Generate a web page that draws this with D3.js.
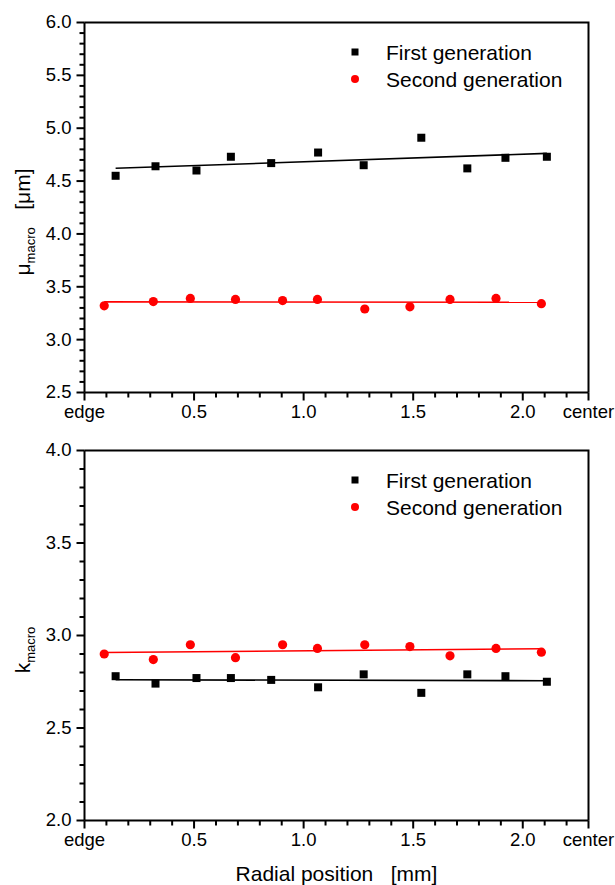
<!DOCTYPE html>
<html>
<head>
<meta charset="utf-8">
<script src="https://cdn.jsdelivr.net/npm/d3@7"></script>
<style>
  html, body { margin: 0; padding: 0; background: #fff; }
  svg { display: block; }
  text { font-family: "Liberation Sans", Arial, sans-serif; fill: #000; white-space: pre; }
</style>
</head>
<body>
<svg id="chart" width="615" height="885"></svg>
<script>
// ---- Data ----
const seriesNames = ["First generation", "Second generation"];
const firstGenX  = [0.142, 0.324, 0.511, 0.668, 0.852, 1.066, 1.274, 1.537, 1.747, 1.921, 2.110];
const secondGenX = [0.090, 0.314, 0.483, 0.689, 0.904, 1.063, 1.279, 1.485, 1.668, 1.878, 2.085];
const muFirst  = [4.55, 4.64, 4.60, 4.73, 4.67, 4.77, 4.65, 4.91, 4.62, 4.72, 4.73];
const muSecond = [3.32, 3.36, 3.39, 3.38, 3.37, 3.38, 3.29, 3.31, 3.38, 3.39, 3.34];
const kFirst   = [2.78, 2.74, 2.77, 2.77, 2.76, 2.72, 2.79, 2.69, 2.79, 2.78, 2.75];
const kSecond  = [2.90, 2.87, 2.95, 2.88, 2.95, 2.93, 2.95, 2.94, 2.89, 2.93, 2.91];

const xMajorTicks = [0, 0.5, 1.0, 1.5, 2.0, 2.3];
const xTickLabels = ["edge", "0.5", "1.0", "1.5", "2.0", "center"];
const muMajorTicks = [2.5, 3.0, 3.5, 4.0, 4.5, 5.0, 5.5, 6.0];
const kMajorTicks  = [2.0, 2.5, 3.0, 3.5, 4.0];

// ---- Layout ----
const svg = d3.select("#chart");
const left = 84.5, right = 588.5;
const x = d3.scaleLinear().domain([0, 2.3]).range([left, right]);
const isMajor = (v, majors) => majors.some(m => Math.abs(m - v) < 1e-6);
const xMinor = d3.range(1, 23).map(i => i / 10).filter(v => !isMajor(v, xMajorTicks));

function linfit(xs, ys) {
  const mx = d3.mean(xs), my = d3.mean(ys);
  let num = 0, den = 0;
  xs.forEach((xi, i) => { num += (xi - mx) * (ys[i] - my); den += (xi - mx) ** 2; });
  const b = num / den, a = my - b * mx;
  return v => a + b * v;
}

const panels = [
  { top: 22.5, bottom: 392.5, domain: [2.5, 6.0], majors: muMajorTicks,
    first: muFirst, second: muSecond, label: "mu" },
  { top: 450.5, bottom: 820.5, domain: [2.0, 4.0], majors: kMajorTicks,
    first: kFirst, second: kSecond, label: "k" }
];

const tickColor = "#000";
const minorLen = 5, majorLen = 8;

panels.forEach(p => {
  const y = d3.scaleLinear().domain(p.domain).range([p.bottom, p.top]);
  const g = svg.append("g");
  const yMinor = d3.range(Math.round(p.domain[0] * 10), Math.round(p.domain[1] * 10) + 1)
    .map(i => i / 10).filter(v => !isMajor(v, p.majors));

  // minor ticks (drawn from the scales, pointing outward)
  g.append("g").selectAll("line").data(xMinor).join("line")
    .attr("x1", d => x(d)).attr("x2", d => x(d))
    .attr("y1", p.bottom).attr("y2", p.bottom + minorLen)
    .attr("stroke", tickColor).attr("stroke-width", 2);
  g.append("g").selectAll("line").data(yMinor).join("line")
    .attr("y1", d => y(d)).attr("y2", d => y(d))
    .attr("x1", left).attr("x2", left - minorLen)
    .attr("stroke", tickColor).attr("stroke-width", 2);

  // major ticks with labels
  const xa = g.append("g").attr("transform", `translate(0,${p.bottom})`)
    .call(d3.axisBottom(x).tickValues(xMajorTicks).tickSize(majorLen).tickSizeOuter(0)
      .tickFormat((d, i) => xTickLabels[i]).tickPadding(6).offset(0));
  xa.select(".domain").attr("stroke", "#000").attr("stroke-width", 2);
  xa.selectAll(".tick line").attr("stroke", tickColor).attr("stroke-width", 2);
  xa.selectAll("text").attr("font-size", 18.5).attr("font-family", "Liberation Sans, Arial, sans-serif")
    .attr("fill", "#000").attr("dy", null).attr("y", 25.5).style("dominant-baseline", "auto");

  const ya = g.append("g").attr("transform", `translate(${left},0)`)
    .call(d3.axisLeft(y).tickValues(p.majors).tickSize(majorLen).tickSizeOuter(0)
      .tickFormat(d3.format(".1f")).tickPadding(6).offset(0));
  ya.select(".domain").attr("stroke", "#000").attr("stroke-width", 2);
  ya.selectAll(".tick line").attr("stroke", tickColor).attr("stroke-width", 2);
  ya.selectAll("text").attr("font-size", 18.5).attr("font-family", "Liberation Sans, Arial, sans-serif")
    .attr("fill", "#000").attr("x", -13);

  // top and right frame
  g.append("path")
    .attr("d", `M${left},${p.top}H${right}V${p.bottom}`)
    .attr("fill", "none").attr("stroke", "#000").attr("stroke-width", 2);

  // fit lines
  const f1 = linfit(firstGenX, p.first), f2 = linfit(secondGenX, p.second);
  const line = d3.line().x(d => x(d[0])).y(d => y(d[1]));
  const x1 = d3.extent(firstGenX), x2 = d3.extent(secondGenX);
  g.append("path").datum(x1.map(v => [v, f1(v)])).attr("d", line)
    .attr("stroke", "#000").attr("stroke-width", 1.6).attr("fill", "none");
  g.append("path").datum(x2.map(v => [v, f2(v)])).attr("d", line)
    .attr("stroke", "#ff0000").attr("stroke-width", 1.6).attr("fill", "none");

  // points
  const sq = 8;
  g.append("g").selectAll("rect").data(firstGenX.map((v, i) => [v, p.first[i]])).join("rect")
    .attr("x", d => x(d[0]) - sq / 2).attr("y", d => y(d[1]) - sq / 2)
    .attr("width", sq).attr("height", sq).attr("fill", "#000");
  g.append("g").selectAll("circle").data(secondGenX.map((v, i) => [v, p.second[i]])).join("circle")
    .attr("cx", d => x(d[0])).attr("cy", d => y(d[1])).attr("r", 4.6).attr("fill", "#ff0000");

  // legend
  const lg = g.append("g");
  lg.append("rect").attr("x", 355 - 3.5).attr("y", p.top + 29.5 - 3.5).attr("width", 7).attr("height", 7).attr("fill", "#000");
  lg.append("circle").attr("cx", 355).attr("cy", p.top + 56.5).attr("r", 4).attr("fill", "#ff0000");
  lg.append("text").attr("x", 386).attr("y", p.top + 37).attr("font-size", 21).text(seriesNames[0]);
  lg.append("text").attr("x", 386).attr("y", p.top + 64).attr("font-size", 21).text(seriesNames[1]);

  // y label
  const cy = p.label === "mu" ? 222 : 650;
  const yl = g.append("text").attr("transform", `translate(30,${cy}) rotate(-90)`)
    .attr("text-anchor", "middle").attr("font-size", 21);
  if (p.label === "mu") {
    yl.append("tspan").text("μ");
    yl.append("tspan").attr("dy", 5).attr("font-size", 13).text("macro");
    yl.append("tspan").attr("dy", -5).text("   [μm]");
  } else {
    yl.append("tspan").text("k");
    yl.append("tspan").attr("dy", 5).attr("font-size", 13).text("macro");
  }
});

// x label
svg.append("text").attr("x", (left + right) / 2).attr("y", 881).attr("text-anchor", "middle")
  .attr("font-size", 21).text("Radial position   [mm]");
</script>
</body>
</html>
